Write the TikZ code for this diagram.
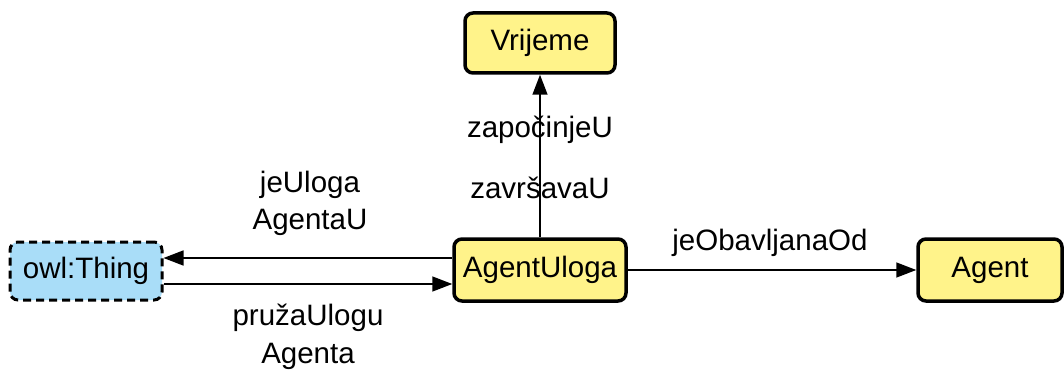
\documentclass[tikz,border=0pt]{standalone}
\usepackage{fontspec}
\setmainfont{Liberation Sans}
\usetikzlibrary{arrows.meta}
\definecolor{boxyellow}{HTML}{FFF38A}
\definecolor{boxblue}{HTML}{A9DDF8}
\begin{document}
\begin{tikzpicture}[x=1pt,y=-1pt,
  every node/.style={font=\fontsize{29.5}{33}\selectfont, inner sep=0pt},
  cls/.style={draw=black, line width=3.5pt, rounded corners=8pt, fill=boxyellow},
  thing/.style={draw=black, line width=3pt, rounded corners=8pt, fill=boxblue, dash pattern=on 8pt off 5pt},
  rel/.style={draw=black, line width=1.5pt, -{Triangle[length=20pt,width=15pt]}},
  lbl/.style={fill=none}
]
\useasboundingbox (0,0) rectangle (1064,374);
\node[cls, minimum width=150pt, minimum height=60pt] (vr) at (540,43) {Vrijeme};
\node[thing, minimum width=152pt, minimum height=58pt] (owl) at (86,271) {owl:Thing};
\node[cls, minimum width=172pt, minimum height=62pt] (au) at (540,270) {AgentUloga};
\node[cls, minimum width=144pt, minimum height=62pt] (ag) at (990,270) {Agent};

\draw[rel] (au.north) -- (vr.south);
\draw[rel] (au.west |- 0,258) -- (owl.east |- 0,258);
\draw[rel] (owl.east |- 0,284) -- (au.west |- 0,284);
\draw[rel] (au.east) -- (ag.west);

\node[lbl] (l1) at (540,130) {započinjeU};
\node[lbl] (l2) at (540,188) {završavaU};
\node[lbl] (l3) at (310,185) {jeUloga};
\node[lbl] (l4) at (310,222) {AgentaU};
\node[lbl] (l5) at (308,318) {pružaUlogu};
\node[lbl] (l6) at (308,356) {Agenta};
\node[lbl] (l7) at (770,243) {jeObavljanaOd};
\end{tikzpicture}
\end{document}
